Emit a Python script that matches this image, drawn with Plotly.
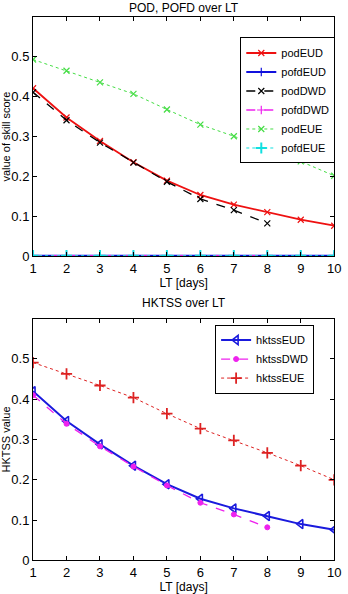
import plotly.graph_objects as go

lt = [1, 2, 3, 4, 5, 6, 7, 8, 9, 10]
lt_dwd = [1, 2, 3, 4, 5, 6, 7, 8]

pod_eud = [0.421, 0.348, 0.289, 0.236, 0.190, 0.154, 0.130, 0.111, 0.092, 0.077]
pofd_eud = [0.002, 0.002, 0.002, 0.002, 0.002, 0.002, 0.002, 0.002, 0.002, 0.002]
pod_dwd = [0.411, 0.341, 0.285, 0.235, 0.187, 0.144, 0.116, 0.083]
pofd_dwd = [0.002, 0.002, 0.002, 0.002, 0.002, 0.002, 0.002, 0.002]
pod_eue = [0.493, 0.465, 0.436, 0.407, 0.368, 0.330, 0.301, 0.270, 0.238, 0.202]
pofd_eue = [0.002, 0.002, 0.002, 0.002, 0.002, 0.002, 0.002, 0.002, 0.002, 0.002]

hktss_eud = [0.420, 0.346, 0.288, 0.235, 0.189, 0.153, 0.129, 0.110, 0.090, 0.076]
hktss_dwd = [0.410, 0.339, 0.283, 0.233, 0.186, 0.143, 0.114, 0.082]
hktss_eue = [0.491, 0.463, 0.434, 0.404, 0.364, 0.327, 0.298, 0.267, 0.235, 0.200]

x_ticks = [1, 2, 3, 4, 5, 6, 7, 8, 9, 10]
y_ticks = [0, 0.1, 0.2, 0.3, 0.4, 0.5]
y_ticklabels = ["0", "0.1", "0.2", "0.3", "0.4", "0.5"]

FONT = "Liberation Sans, Arial, sans-serif"

fig = go.Figure()

def add(x, y, name, color, dash, symbol, width, xa, ya, legend, msize=6, mline=1.2):
    fig.add_trace(go.Scatter(
        x=x, y=y, name=name, mode="lines+markers",
        line=dict(color=color, dash=dash, width=width),
        marker=dict(symbol=symbol, color=color, size=msize,
                    line=dict(color=color, width=mline)),
        xaxis=xa, yaxis=ya, legend=legend,
    ))

add(lt, pod_eud, "podEUD", "#ee1111", "solid", "x-thin", 1.8, "x", "y", "legend")
add(lt, pofd_eud, "pofdEUD", "#1111dd", "solid", "cross-thin", 1.8, "x", "y", "legend")
add(lt_dwd, pod_dwd, "podDWD", "#000000", "dash", "x-thin", 1.3, "x", "y", "legend")
add(lt_dwd, pofd_dwd, "pofdDWD", "#ee22ee", "dash", "cross-thin", 1.3, "x", "y", "legend")
add(lt, pod_eue, "podEUE", "#44dd44", "dot", "x-thin", 1.0, "x", "y", "legend")
add(lt, pofd_eue, "pofdEUE", "#11e0e0", "dot", "cross-thin", 1.0, "x", "y", "legend", msize=8, mline=2)

add(lt, hktss_eud, "hktssEUD", "#1a1add", "solid", "triangle-left-open", 2.0, "x2", "y2", "legend2", msize=8, mline=1.6)
add(lt_dwd, hktss_dwd, "hktssDWD", "#ee22ee", "dash", "circle", 1.3, "x2", "y2", "legend2", msize=5, mline=1)
add(lt, hktss_eue, "hktssEUE", "#dd2222", "dot", "cross-thin", 1.0, "x2", "y2", "legend2", msize=8, mline=1.8)

xdom = [30 / 348, 341 / 348]
top_dom = [1 - 260 / 594, 1 - 17 / 594]
bot_dom = [1 - 568 / 594, 1 - 323 / 594]

axis_common = dict(
    showline=True, linecolor="#000000", linewidth=1, mirror="ticks",
    ticks="inside", ticklen=4, tickcolor="#000000", showgrid=False, zeroline=False,
    tickfont=dict(family=FONT, size=13, color="#000000"),
)

fig.update_layout(
    width=348, height=594,
    margin=dict(l=0, r=0, t=0, b=0),
    paper_bgcolor="white", plot_bgcolor="white",
    font=dict(family=FONT, color="#000000"),
    xaxis=dict(domain=xdom, anchor="y", range=[1, 10], tickvals=x_ticks, ticklabeloverflow="allow",
               title=dict(text="LT [days]", font=dict(size=12), standoff=2), **axis_common),
    yaxis=dict(domain=top_dom, anchor="x", range=[0, 0.6], tickvals=y_ticks, ticktext=y_ticklabels,
               title=dict(text="value of skill score", font=dict(size=11), standoff=2), **axis_common),
    xaxis2=dict(domain=xdom, anchor="y2", range=[1, 10], tickvals=x_ticks, ticklabeloverflow="allow",
                title=dict(text="LT [days]", font=dict(size=12), standoff=2), **axis_common),
    yaxis2=dict(domain=bot_dom, anchor="x2", range=[0, 0.6], tickvals=y_ticks, ticktext=y_ticklabels,
                title=dict(text="HKTSS value", font=dict(size=11), standoff=2), **axis_common),
    legend=dict(x=244 / 348, y=1 - 38 / 594, xanchor="left", yanchor="top",
                bordercolor="#000000", borderwidth=1, bgcolor="white",
                font=dict(family=FONT, size=11), tracegroupgap=0, itemwidth=30),
    legend2=dict(x=218 / 348, y=1 - 329 / 594, xanchor="left", yanchor="top",
                 bordercolor="#000000", borderwidth=1, bgcolor="white",
                 font=dict(family=FONT, size=11), tracegroupgap=0, itemwidth=30),
    annotations=[
        dict(text="POD, POFD over LT", x=(xdom[0] + xdom[1]) / 2, y=1 - 8 / 594,
             xref="paper", yref="paper", showarrow=False, yanchor="middle",
             font=dict(family=FONT, size=12, color="#000000")),
        dict(text="HKTSS over LT", x=(xdom[0] + xdom[1]) / 2, y=1 - 307 / 594,
             xref="paper", yref="paper", showarrow=False, yanchor="middle",
             font=dict(family=FONT, size=12, color="#000000")),
    ],
)

fig.write_html("out.html")
